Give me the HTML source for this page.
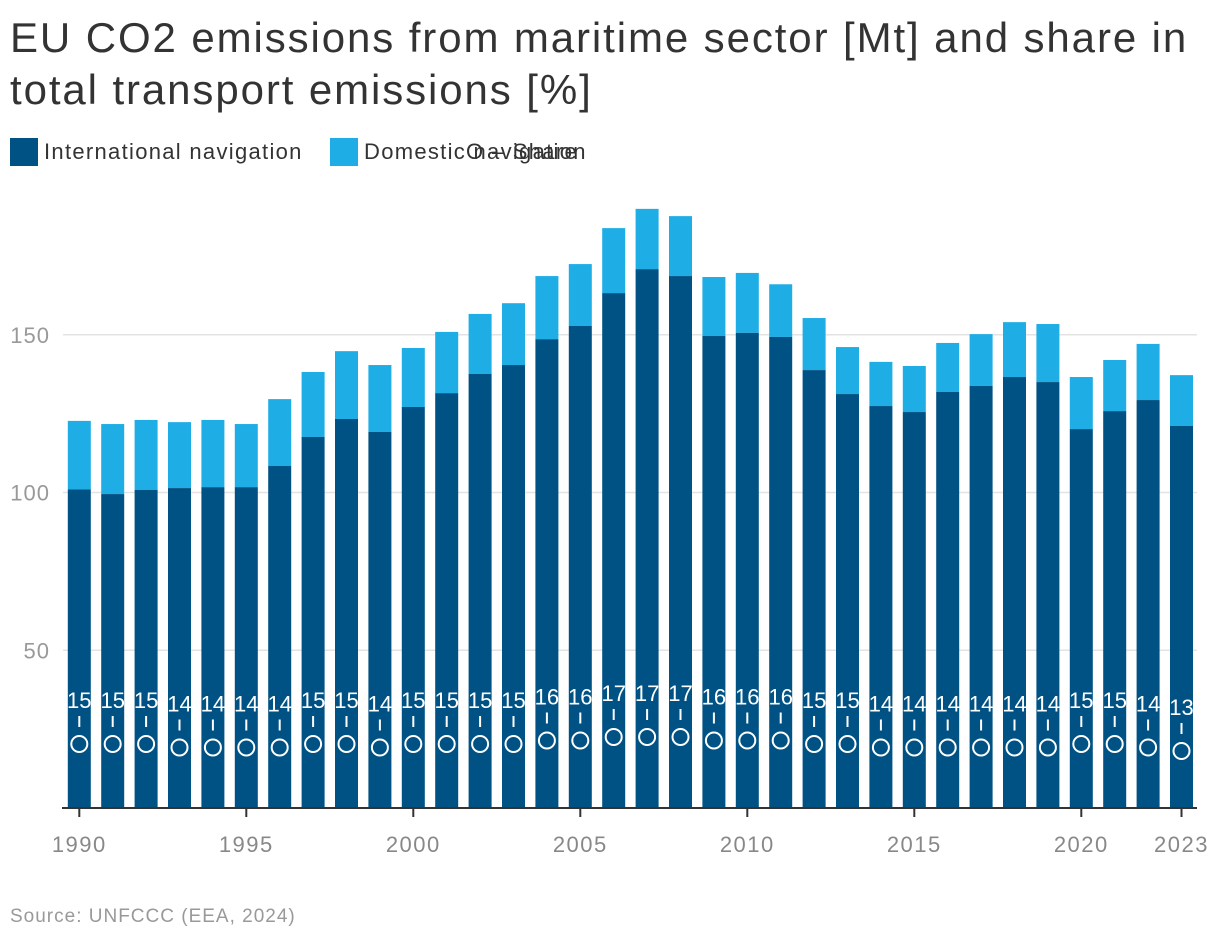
<!DOCTYPE html>
<html><head><meta charset="utf-8"><style>
body{margin:0;background:#fff;font-family:"Liberation Sans",sans-serif;}
#wrap{position:relative;width:1220px;height:946px;overflow:hidden;}
h1{position:absolute;left:10px;top:12px;margin:0;font-weight:normal;font-size:42px;letter-spacing:1.9px;line-height:52px;color:#333;width:1215px;}
.leg{position:absolute;top:138px;height:28px;font-size:22px;letter-spacing:1.3px;color:#333;line-height:28px;white-space:nowrap;}
.sw{display:inline-block;width:28px;height:28px;vertical-align:top;margin-right:6px;}
#src{position:absolute;left:10px;top:906px;font-size:19px;letter-spacing:1px;color:#999;}
</style></head><body><div id="wrap">
<h1>EU CO2 emissions from maritime sector [Mt] and share in total transport emissions [%]</h1>
<div class="leg" style="left:10px"><span class="sw" style="background:#005284"></span>International navigation</div>
<div class="leg" style="left:330px"><span class="sw" style="background:#1fade6"></span>Domestic navigation</div>
<div class="leg" style="left:466px">O – Share</div>
<svg id="chart" width="1220" height="946" style="position:absolute;left:0;top:0"></svg>
<div id="src">Source: UNFCCC (EEA, 2024)</div>
</div>
<script>
const years=[1990,1991,1992,1993,1994,1995,1996,1997,1998,1999,2000,2001,2002,2003,2004,2005,2006,2007,2008,2009,2010,2011,2012,2013,2014,2015,2016,2017,2018,2019,2020,2021,2022,2023];
const international=[101,99.5,100.8,101.4,101.7,101.7,108.4,117.6,123.3,119.2,127.1,131.5,137.6,140.4,148.6,152.8,163.2,170.8,168.6,149.6,150.6,149.3,138.8,131.2,127.4,125.5,131.9,133.8,136.6,135,120.1,125.8,129.3,121.1];
const domestic=[21.7,22.2,22.2,20.9,21.3,20,21.2,20.6,21.5,21.2,18.7,19.4,19,19.6,20,19.6,20.6,19.1,19,18.7,19,16.7,16.5,14.9,14,14.6,15.5,16.4,17.4,18.4,16.5,16.2,17.8,16.1];
const share=[15,15,15,14,14,14,14,15,15,14,15,15,15,15,16,16,17,17,17,16,16,16,15,15,14,14,14,14,14,14,15,15,14,13];
const yTicks=[50,100,150];
const xTicks=[1990,1995,2000,2005,2010,2015,2020,2023];
const NS='http://www.w3.org/2000/svg';
const svg=document.getElementById('chart');
const y0=808,pxPerUnit=3.155;
const yScale=v=>y0-v*pxPerUnit;
const xScale=yr=>79.3+(yr-1990)*33.4;
const shareY=s=>796.5-3.5*s;
const bw=23;
function mk(tag,attrs){const e=document.createElementNS(NS,tag);for(const k in attrs)e.setAttribute(k,attrs[k]);svg.appendChild(e);return e;}
yTicks.forEach(t=>{
 const l=mk('line',{x1:63,x2:1197,y1:yScale(t),y2:yScale(t),stroke:'#e3e3e3','stroke-width':1.5});
 
 
 const tx=mk('text',{x:50,y:yScale(t)+8,'text-anchor':'end','font-size':22,'letter-spacing':1,fill:'#999','font-family':'Liberation Sans, sans-serif'});
 tx.textContent=t;
 
 
});
years.forEach((yr,i)=>{
 const x=xScale(yr)-bw/2;
 const tot=international[i]+domestic[i];
 const d=mk('rect',{x:x,y:yScale(tot),width:bw,height:yScale(international[i])-yScale(tot),fill:'#1fade6'});
 
 
 const n=mk('rect',{x:x,y:yScale(international[i]),width:bw,height:y0-yScale(international[i]),fill:'#005284'});
 
 
 const cy=shareY(share[i]);
 const c=mk('circle',{cx:xScale(yr),cy:cy,r:8,fill:'none',stroke:'#fff','stroke-width':2});
 
 
 const tk=mk('line',{x1:xScale(yr),x2:xScale(yr),y1:cy-28,y2:cy-17,stroke:'#fff','stroke-width':2});
 
 
 const lb=mk('text',{x:xScale(yr),y:cy-36,'text-anchor':'middle','font-size':22,fill:'#fff','font-family':'Liberation Sans, sans-serif'});
 lb.textContent=share[i];
 
 
});
const ax=mk('line',{x1:62,x2:1197,y1:y0,y2:y0,stroke:'#333','stroke-width':2});


xTicks.forEach(t=>{
 const l=mk('line',{x1:xScale(t),x2:xScale(t),y1:y0,y2:y0+9,stroke:'#333','stroke-width':2});
 
 
 const tx=mk('text',{x:xScale(t),y:852,'text-anchor':'middle','font-size':22,'letter-spacing':1.5,fill:'#888','font-family':'Liberation Sans, sans-serif'});
 tx.textContent=t;
 
 
});
</script></body></html>
